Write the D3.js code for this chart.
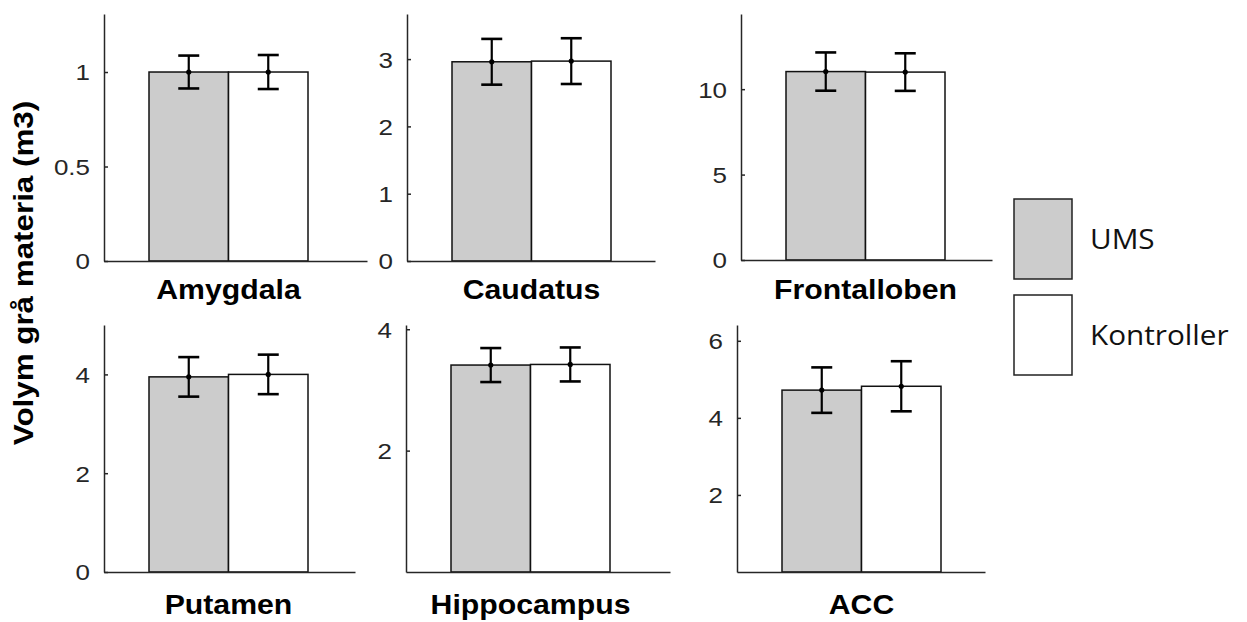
<!DOCTYPE html>
<html>
<head>
<meta charset="utf-8">
<script src="https://cdn.jsdelivr.net/npm/d3@7"></script>
<style>
  body { margin: 0; background: #fff; }
  svg { display: block; }
  .axis path, .axis line { stroke: #262626; stroke-width: 1.5; }
</style>
</head>
<body>
<div id="chart"></div>
<script>
// data
var regions = ["Amygdala", "Caudatus", "Frontalloben", "Putamen", "Hippocampus", "ACC"];
var groups = ["UMS", "Kontroller"];
var umsMean = [1.0, 2.96, 11.03, 3.95, 3.41, 4.72];
var umsErr = [0.087, 0.34, 1.12, 0.40, 0.28, 0.59];
var ctrlMean = [1.0, 2.97, 11.0, 4.0, 3.42, 4.82];
var ctrlErr = [0.09, 0.34, 1.1, 0.40, 0.28, 0.65];
var yMax = [1.307, 3.67, 14.4, 5.0, 4.07, 6.41];
var yTicks = [[0, 0.5, 1], [0, 1, 2, 3], [0, 5, 10], [0, 2, 4], [2, 4], [2, 4, 6]];

// panel layout: left edge of y axis, right end of x axis, top and baseline
var panels = [
    {left: 104, right: 367, top: 14, base: 261},
    {left: 407, right: 655, top: 14, base: 261},
    {left: 741, right: 992, top: 14, base: 260},
    {left: 104, right: 355, top: 325, base: 572},
    {left: 406, right: 670, top: 325, base: 572},
    {left: 737, right: 985, top: 325, base: 572}
];
var barOffset = 45, barGroupWidth = 159;
var colors = {UMS: "#cccccc", Kontroller: "#ffffff"};

var svg = d3.select("#chart")
            .append("svg")
            .attr("width", 1247)
            .attr("height", 622);

regions.forEach(function(name, i) {
    var p = panels[i];
    var g = svg.append("g");

    var y = d3.scaleLinear()
        .domain([0, yMax[i]])
        .range([p.base, p.top]);

    var x = d3.scaleBand()
        .domain(groups)
        .range([p.left + barOffset, p.left + barOffset + barGroupWidth]);

    var data = [
        {group: "UMS", mean: umsMean[i], err: umsErr[i]},
        {group: "Kontroller", mean: ctrlMean[i], err: ctrlErr[i]}
    ];

    // bars
    g.selectAll("rect")
        .data(data)
        .enter()
        .append("rect")
        .attr("x", d => x(d.group))
        .attr("width", x.bandwidth())
        .attr("y", d => y(d.mean))
        .attr("height", d => y(0) - y(d.mean))
        .attr("fill", d => colors[d.group])
        .attr("stroke", "#111")
        .attr("stroke-width", 1.5);

    // x axis line
    var xLine = d3.scaleLinear().range([p.left, p.right]);
    g.append("g")
        .attr("class", "axis")
        .attr("transform", "translate(0," + p.base + ")")
        .call(d3.axisBottom(xLine).tickValues([]).tickSizeOuter(0));

    // y axis, ticks point inward like matlab
    var yAxis = g.append("g")
        .attr("class", "axis")
        .attr("transform", "translate(" + p.left + ",0)")
        .call(d3.axisLeft(y)
            .tickValues(yTicks[i])
            .tickFormat(d3.format("~g"))
            .tickSizeInner(-4)
            .tickSizeOuter(0)
            .tickPadding(14));
    yAxis.selectAll(".tick text")
        .attr("x", 0)
        .attr("dy", "0.36em")
        .attr("transform", "translate(-14,0) scale(1.18,1)")
        .style("font-family", "Liberation Sans, Arial, sans-serif")
        .style("font-size", "22px")
        .style("fill", "#262626");

    // error bars
    var eb = g.selectAll(".err")
        .data(data)
        .enter()
        .append("g")
        .attr("class", "err");
    var cx = d => x(d.group) + x.bandwidth() / 2;
    eb.append("line")
        .attr("x1", cx).attr("x2", cx)
        .attr("y1", d => y(d.mean + d.err))
        .attr("y2", d => y(d.mean - d.err))
        .attr("stroke", "#000").attr("stroke-width", 2.2);
    [1, -1].forEach(function(s) {
        eb.append("line")
            .attr("x1", d => cx(d) - 10.5).attr("x2", d => cx(d) + 10.5)
            .attr("y1", d => y(d.mean + s * d.err))
            .attr("y2", d => y(d.mean + s * d.err))
            .attr("stroke", "#000").attr("stroke-width", 2.6);
    });
    eb.append("circle")
        .attr("cx", cx)
        .attr("cy", d => y(d.mean))
        .attr("r", 2.6)
        .attr("fill", "#000");

    // region title under each panel
    var tx = x.range()[0] + barGroupWidth / 2;
    var ty = i < 3 ? 299 : 614;
    g.append("text")
        .attr("transform", "translate(" + tx + "," + ty + ") scale(1.12,1)")
        .attr("text-anchor", "middle")
        .style("font-family", "Liberation Sans, Arial, sans-serif")
        .style("font-weight", "bold")
        .style("font-size", "27px")
        .style("fill", "#000")
        .text(name);
});

// y label
svg.append("text")
    .attr("transform", "translate(33,273) rotate(-90) scale(1.12,1)")
    .attr("text-anchor", "middle")
    .style("font-family", "Liberation Sans, Arial, sans-serif")
    .style("font-weight", "bold")
    .style("font-size", "28px")
    .style("fill", "#000")
    .text("Volym grå materia (m3)");

// legend
var legend = svg.selectAll(".legend")
    .data(groups)
    .enter()
    .append("g")
    .attr("class", "legend")
    .attr("transform", function(d, i) { return "translate(1014," + (199 + i * 96) + ")"; });

legend.append("rect")
    .attr("width", 58)
    .attr("height", 80)
    .attr("fill", d => colors[d])
    .attr("stroke", "#222")
    .attr("stroke-width", 1.5);

legend.append("text")
    .attr("transform", "translate(76,50) scale(1.1,1)")
    .style("font-family", "Open Sans, sans-serif")
    .style("font-size", "27px")
    .style("fill", "#111")
    .text(d => d);
</script>
</body>
</html>
